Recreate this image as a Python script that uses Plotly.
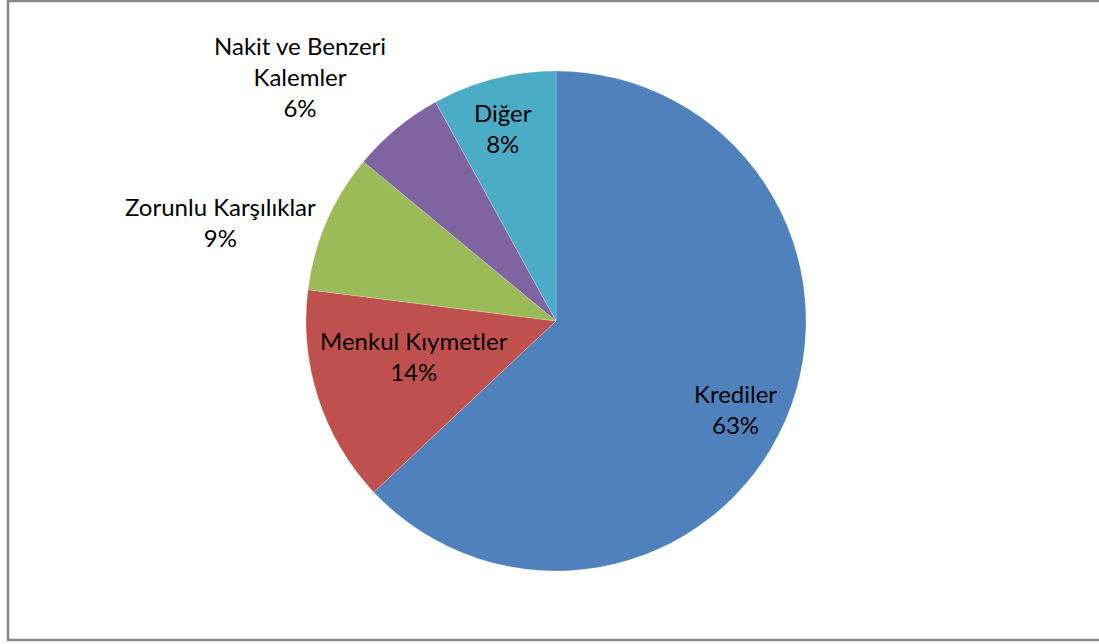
import plotly.graph_objects as go

labels = ["Krediler", "Menkul Kıymetler", "Zorunlu Karşılıklar", "Nakit ve Benzeri Kalemler", "Diğer"]
values = [63, 14, 9, 6, 8]
label_text = ["Krediler", "Menkul Kıymetler", "Zorunlu Karşılıklar", "Nakit ve Benzeri<br>Kalemler", "Diğer"]
colors = ["#4F81BD", "#C0504D", "#9BBB59", "#8064A2", "#4BACC6"]

W, H = 1099, 644
cx, cy, r = 556, 321, 250

# label anchor pixel positions (style)
label_pos = [(735, 409), (414, 356), (220, 222), (300, 77), (503, 128)]

fig = go.Figure(go.Pie(
    labels=labels, values=values, sort=False, direction="clockwise", rotation=0,
    marker=dict(colors=colors, line=dict(color="rgba(255,255,255,0.4)", width=0.5)),
    textinfo="none", hoverinfo="label+percent", showlegend=False,
    domain=dict(x=[(cx - r) / W, (cx + r) / W], y=[(H - cy - r) / H, (H - cy + r) / H]),
))

total = sum(values)
for txt, v, (px, py) in zip(label_text, values, label_pos):
    pct = round(100 * v / total)
    fig.add_annotation(
        x=px / W, y=1 - py / H, xref="paper", yref="paper",
        text=f"{txt}<br>{pct}%", showarrow=False, align="center",
        xanchor="center", yanchor="middle",
        font=dict(family="Lato, Open Sans, sans-serif", size=24, color="#000000"),
    )

fig.add_shape(type="rect", xref="paper", yref="paper",
              x0=8 / W, x1=1.05, y0=(H - 640) / H, y1=(H - 1) / H,
              line=dict(color="#888888", width=2.5), fillcolor="rgba(0,0,0,0)")

fig.update_layout(width=W, height=H, margin=dict(l=0, r=0, t=0, b=0),
                  paper_bgcolor="white", plot_bgcolor="white")
fig.write_html("out.html", config={"displayModeBar": False},
               post_script="document.body.style.margin='0';document.body.style.overflow='hidden';")
